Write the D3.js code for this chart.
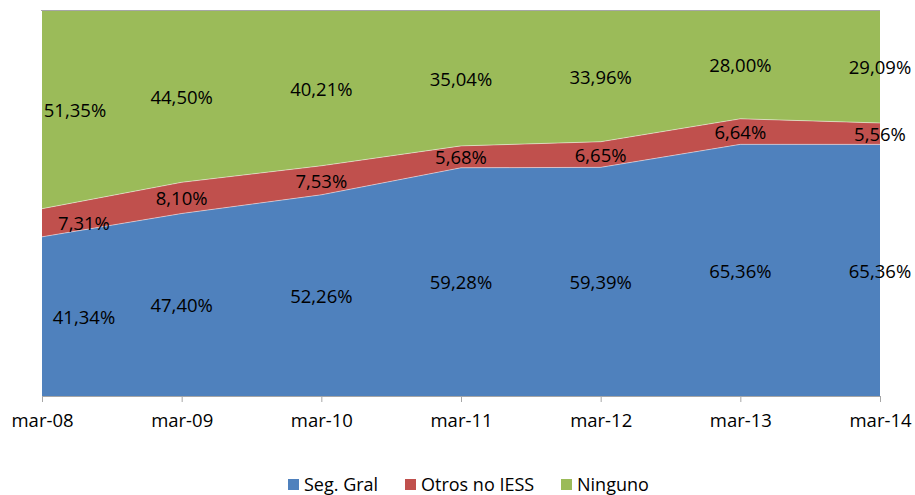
<!DOCTYPE html>
<html>
<head>
<meta charset="utf-8">
<script src="https://cdn.jsdelivr.net/npm/d3@7"></script>
<style>
  body { margin: 0; background: #fff; }
  text { font-family: "Open Sans", "DejaVu Sans", sans-serif; fill: #000; }
</style>
</head>
<body>
<svg id="chart" width="915" height="495"></svg>
<script>
const periods = ['mar-08', 'mar-09', 'mar-10', 'mar-11', 'mar-12', 'mar-13', 'mar-14'];
const segGral = [41.34, 47.40, 52.26, 59.28, 59.39, 65.36, 65.36];
const otros = [7.31, 8.10, 7.53, 5.68, 6.65, 6.64, 5.56];
const ninguno = [51.35, 44.50, 40.21, 35.04, 33.96, 28.00, 29.09];
const seriesNames = ['Seg. Gral', 'Otros no IESS', 'Ninguno'];

const colors = ['#4F81BD', '#C0504D', '#9BBB59'];
const margin = { top: 11, left: 42, right: 35, bottom: 99 };
const width = 915 - margin.left - margin.right;
const height = 495 - margin.top - margin.bottom;

const rows = periods.map((p, i) => ({
  period: p, 'Seg. Gral': segGral[i], 'Otros no IESS': otros[i], 'Ninguno': ninguno[i]
}));

const stack = d3.stack().keys(seriesNames).offset(d3.stackOffsetExpand);
const layers = stack(rows);

const x = d3.scalePoint().domain(periods).range([0, width]);
const y = d3.scaleLinear().domain([0, 1]).range([height, 0]);

const svg = d3.select('#chart');
const g = svg.append('g')
  .attr('transform', 'translate(' + margin.left + ',' + margin.top + ')');

const area = d3.area()
  .x(d => x(d.data.period))
  .y0(d => y(d[0]))
  .y1(d => y(d[1]));

g.selectAll('path.layer')
  .data(layers)
  .enter().append('path')
    .attr('class', 'layer')
    .attr('fill', (d, i) => colors[i])
    .attr('d', area);

// thin light separators between stacked areas
const topLine = d3.line().x(d => x(d.data.period)).y(d => y(d[1]));
g.selectAll('path.sep')
  .data(layers.slice(0, 2))
  .enter().append('path')
    .attr('class', 'sep')
    .attr('fill', 'none')
    .attr('stroke', '#fff')
    .attr('stroke-opacity', 0.6)
    .attr('stroke-width', 0.8)
    .attr('d', topLine);

// top border of plot area
g.append('line')
  .attr('x1', -1).attr('x2', width)
  .attr('y1', -0.5).attr('y2', -0.5)
  .attr('stroke', '#A6A6A6').attr('stroke-width', 1);

// x axis
const xAxis = d3.axisBottom(x).tickSize(6).tickPadding(12);
const ax = g.append('g')
  .attr('transform', 'translate(0,' + height + ')')
  .call(xAxis);
ax.select('.domain').attr('stroke', '#A6A6A6');
ax.selectAll('.tick line').attr('stroke', '#A6A6A6');
ax.selectAll('.tick text')
  .style('font-size', '18.5px')
  .attr('fill', '#000');

// data labels
const fmt = v => v.toFixed(2).replace('.', ',') + '%';
const values = [segGral, otros, ninguno];
layers.forEach((layer, si) => {
  g.selectAll('text.lbl' + si)
    .data(layer)
    .enter().append('text')
      .attr('class', 'lbl' + si)
      .attr('x', (d, i) => x(d.data.period) + (i === 0 ? (si === 2 ? 33 : 42) : 0))
      .attr('y', d => y((d[0] + d[1]) / 2) + 1)
      .attr('dy', '0.35em')
      .attr('text-anchor', 'middle')
      .style('font-size', '18.5px')
      .text((d, i) => fmt(values[si][i]));
});

// legend
const legendItems = [
  { name: seriesNames[0], x: 288, color: colors[0] },
  { name: seriesNames[1], x: 405, color: colors[1] },
  { name: seriesNames[2], x: 561, color: colors[2] }
];
const legend = svg.append('g').selectAll('g')
  .data(legendItems)
  .enter().append('g')
    .attr('transform', d => 'translate(' + d.x + ',479)');
legend.append('rect')
  .attr('width', 11).attr('height', 11)
  .attr('fill', d => d.color);
legend.append('text')
  .attr('x', 16).attr('y', 6)
  .attr('dy', '0.35em')
  .style('font-size', '18px')
  .text(d => d.name);
</script>
</body>
</html>
